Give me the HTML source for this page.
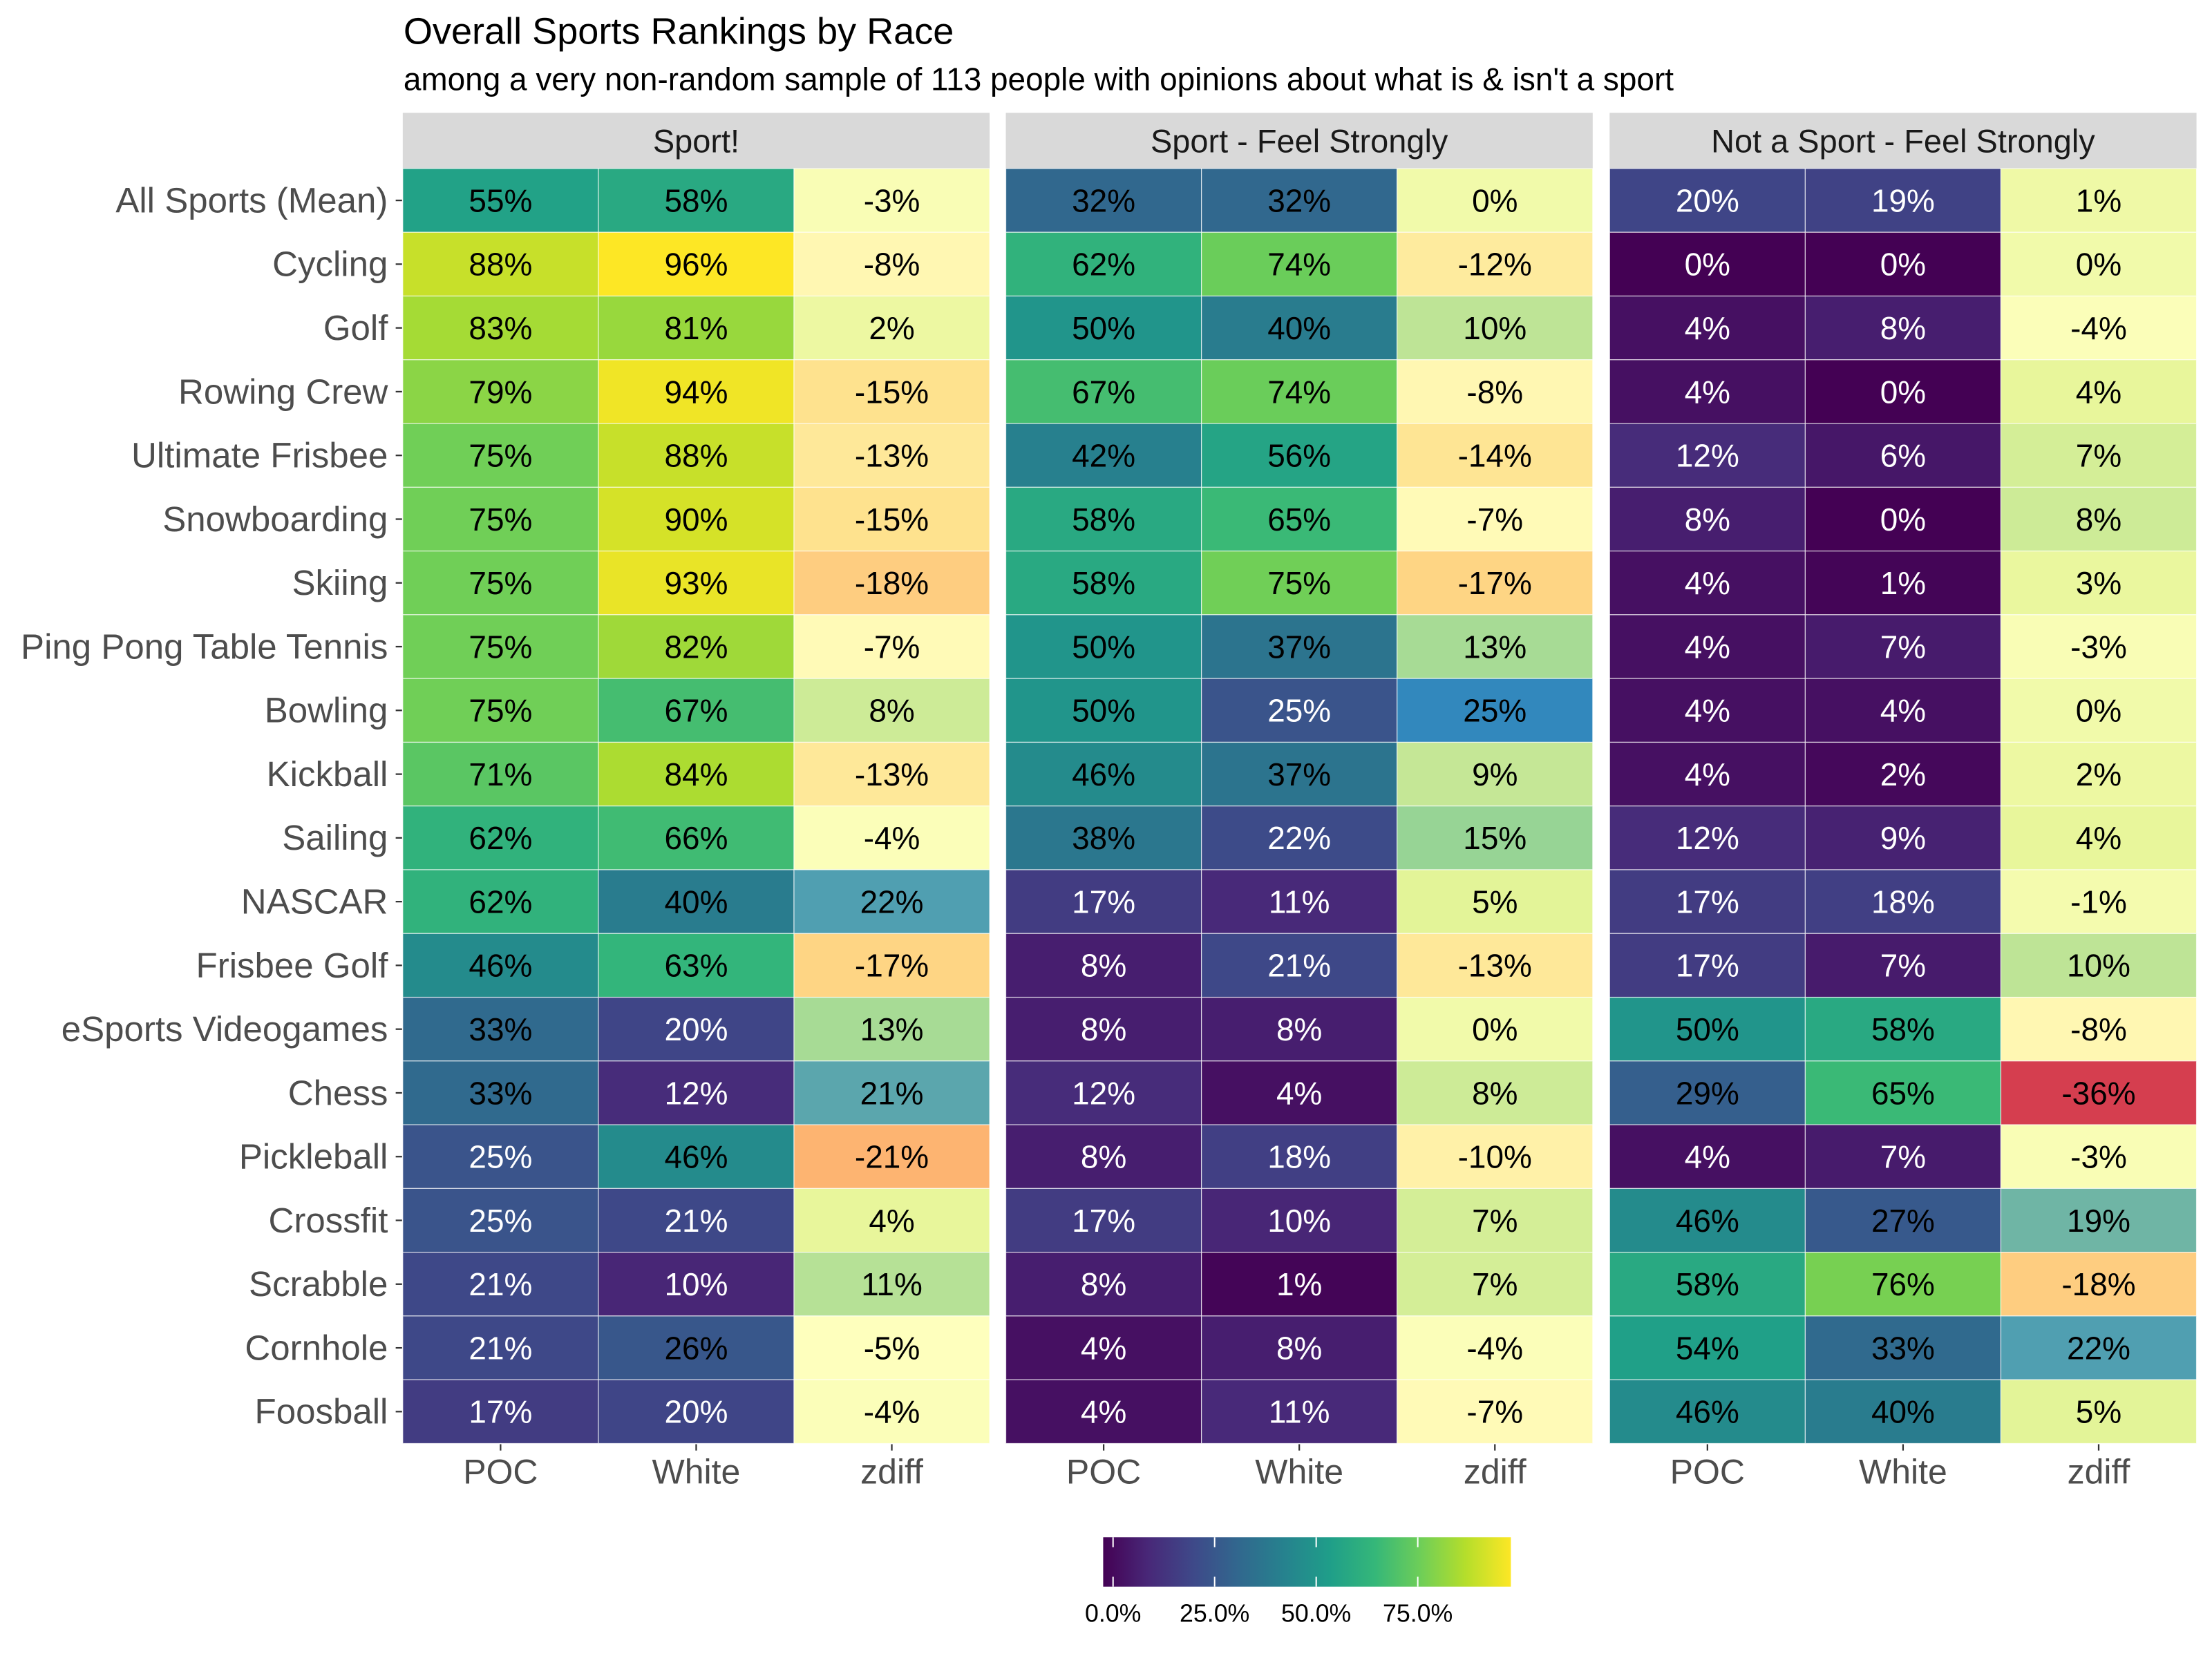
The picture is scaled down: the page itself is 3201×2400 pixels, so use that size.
<!DOCTYPE html>
<html><head><meta charset="utf-8">
<style>
html,body{margin:0;padding:0;background:#fff;}
svg{display:block;}
text{font-family:"Liberation Sans",Arial,sans-serif;}
</style></head>
<body>
<svg id="chart" width="3201" height="2400" viewBox="0 0 1568 1175.6" preserveAspectRatio="none" xmlns="http://www.w3.org/2000/svg">
<rect x="0" y="0" width="1568" height="1176" fill="#fff"/>
<text x="286" y="31" font-size="26.5" fill="#000">Overall Sports Rankings by Race</text>
<text x="286" y="64" font-size="22.5" fill="#000">among a very non-random sample of 113 people with opinions about what is &amp; isn't a sport</text>
<g id="plot"></g>
<defs>
<linearGradient id="vir" x1="0" x2="1" y1="0" y2="0">
<stop offset="0" stop-color="#440154"/><stop offset="0.111" stop-color="#482878"/><stop offset="0.222" stop-color="#3e4989"/><stop offset="0.333" stop-color="#31688e"/><stop offset="0.444" stop-color="#26828e"/><stop offset="0.556" stop-color="#1f9e89"/><stop offset="0.667" stop-color="#35b779"/><stop offset="0.778" stop-color="#6ece58"/><stop offset="0.889" stop-color="#b5de2b"/><stop offset="1" stop-color="#fde725"/>
</linearGradient>
</defs>
<g>
<rect x="782" y="1090" width="289" height="35" fill="url(#vir)"/>
<g id="legend-ticks"></g>
</g>
</svg>
<script>
const rowLabels = ["All Sports (Mean)","Cycling","Golf","Rowing Crew","Ultimate Frisbee","Snowboarding","Skiing","Ping Pong Table Tennis","Bowling","Kickball","Sailing","NASCAR","Frisbee Golf","eSports Videogames","Chess","Pickleball","Crossfit","Scrabble","Cornhole","Foosball"];
const panelTitles = ["Sport!","Sport - Feel Strongly","Not a Sport - Feel Strongly"];
const colLabels = ["POC","White","zdiff"];
const sportPOC = [55,88,83,79,75,75,75,75,75,71,62,62,46,33,33,25,25,21,21,17];
const sportWhite = [58,96,81,94,88,90,93,82,67,84,66,40,63,20,12,46,21,10,26,20];
const sportZdiff = [-3,-8,2,-15,-13,-15,-18,-7,8,-13,-4,22,-17,13,21,-21,4,11,-5,-4];
const strongPOC = [32,62,50,67,42,58,58,50,50,46,38,17,8,8,12,8,17,8,4,4];
const strongWhite = [32,74,40,74,56,65,75,37,25,37,22,11,21,8,4,18,10,1,8,11];
const strongZdiff = [0,-12,10,-8,-14,-7,-17,13,25,9,15,5,-13,0,8,-10,7,7,-4,-7];
const notPOC = [20,0,4,4,12,8,4,4,4,4,12,17,17,50,29,4,46,58,54,46];
const notWhite = [19,0,8,0,6,0,1,7,4,2,9,18,7,58,65,7,27,76,33,40];
const notZdiff = [1,0,-4,4,7,8,3,-3,0,2,4,-1,10,-8,-36,-3,19,-18,22,5];
const legendTicks = [0,25,50,75];
const legendTickLabels = ["0.0%","25.0%","50.0%","75.0%"];

const panels = [[sportPOC,sportWhite,sportZdiff],[strongPOC,strongWhite,strongZdiff],[notPOC,notWhite,notZdiff]];
const NS = "http://www.w3.org/2000/svg";
const plot = document.getElementById('plot');
const panelX = [285.5, 713, 1141];
const panelW = 416;
const top0 = 119.5, rowH = 45.2;
const colW = panelW/3;

function hex(h){return [parseInt(h.slice(1,3),16),parseInt(h.slice(3,5),16),parseInt(h.slice(5,7),16)];}
function interp(stops, t){
  t = Math.max(0, Math.min(1, t));
  const n = stops.length-1, f = t*n, i = Math.min(Math.floor(f), n-1), u = f-i;
  const a = hex(stops[i]), b = hex(stops[i+1]);
  return 'rgb(' + a.map((v,k)=>Math.round(v+(b[k]-v)*u)).join(',') + ')';
}
const viridis = ["#440154","#482878","#3e4989","#31688e","#26828e","#1f9e89","#35b779","#6ece58","#b5de2b","#fde725"];
const spectral = ["#d53e4f","#fc8d59","#fee08b","#ffffbf","#e6f598","#99d594","#3288bd"];
function fillPct(v){ return interp(viridis, v/96); }
function fillDiff(v){ return interp(spectral, (v+36)/61); }
function yPos(i){ return top0 + i*rowH; }
function xPos(p,c){ return panelX[p] + c*colW; }
function mk(tag, attrs){ const e=document.createElementNS(NS,tag); for(const k in attrs) e.setAttribute(k,attrs[k]); return e; }

panels.forEach((cols,p)=>{
  const strip = mk('rect',{x:panelX[p],y:80,width:panelW,height:39.5,fill:'#d9d9d9'});
  
  
  plot.appendChild(strip);
  const st = mk('text',{x:panelX[p]+panelW/2,y:108,'font-size':23,'text-anchor':'middle',fill:'#1a1a1a'});
  st.textContent = panelTitles[p];
  
  
  plot.appendChild(st);
  cols.forEach((vals,c)=>{
    vals.forEach((v,i)=>{
      const r = mk('rect',{x:xPos(p,c),y:yPos(i),width:colW,height:rowH,fill:(c===2?fillDiff(v):fillPct(v)),stroke:'#ffffff','stroke-width':0.6,'stroke-opacity':0.7});
      
      
      plot.appendChild(r);
      const t = mk('text',{x:xPos(p,c)+colW/2,y:yPos(i)+rowH/2+8,'font-size':22.5,'text-anchor':'middle',fill:(c!==2 && v<=25)?'#ffffff':'#000000'});
      t.textContent = v + '%';
      
      
      plot.appendChild(t);
    });
    const tk = mk('line',{x1:xPos(p,c)+colW/2,x2:xPos(p,c)+colW/2,y1:1024,y2:1028.5,stroke:'#333','stroke-width':1.1});
    
    
    plot.appendChild(tk);
    const xl = mk('text',{x:xPos(p,c)+colW/2,y:1052,'font-size':24.5,'text-anchor':'middle',fill:'#4d4d4d'});
    xl.textContent = colLabels[c];
    
    
    plot.appendChild(xl);
  });
});
rowLabels.forEach((lab,i)=>{
  const t = mk('text',{x:275,y:yPos(i)+rowH/2+8.5,'font-size':25,'text-anchor':'end',fill:'#4d4d4d'});
  t.textContent = lab;
  
  
  plot.appendChild(t);
  const tk = mk('line',{x1:280.5,x2:285,y1:yPos(i)+rowH/2,y2:yPos(i)+rowH/2,stroke:'#333','stroke-width':1.1});
  
  
  plot.appendChild(tk);
});
const lg = document.getElementById('legend-ticks');
function legX(v){ return 789 + v*(72/25); }
legendTicks.forEach((v,i)=>{
  const a = mk('line',{x1:legX(v),x2:legX(v),y1:1090,y2:1097,stroke:'#fff','stroke-width':1});
  
  
  lg.appendChild(a);
  const b = mk('line',{x1:legX(v),x2:legX(v),y1:1118,y2:1125,stroke:'#fff','stroke-width':1});
  
  
  lg.appendChild(b);
  const t = mk('text',{x:legX(v),y:1150,'font-size':17.5,'text-anchor':'middle',fill:'#000'});
  t.textContent = legendTickLabels[i];
  
  
  lg.appendChild(t);
});
</script>
</body></html>
